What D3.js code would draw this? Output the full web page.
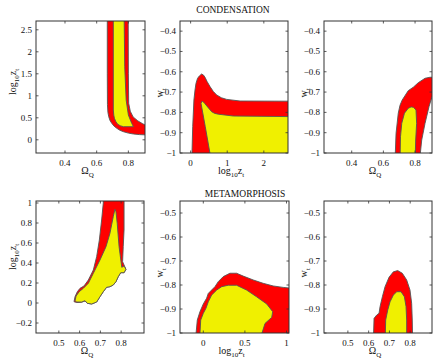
<!DOCTYPE html>
<html>
<head>
<meta charset="utf-8">
<script src="https://cdn.jsdelivr.net/npm/d3@7"></script>
<style>
  body { margin: 0; background: #fff; }
</style>
</head>
<body>
<svg id="vis"></svg>
<script>
  var width = 436, height = 362;
  var serif = '"Liberation Serif", "Times New Roman", Times, "DejaVu Serif", serif';

  // ---- tick values ----
  var omegaTicksA = [0.4, 0.6, 0.8];
  var omegaTicksB = [0.5, 0.6, 0.7, 0.8];
  var logzTicksA = [0, 0.5, 1, 1.5, 2, 2.5];
  var logzTicksB = [-0.2, 0, 0.2, 0.4, 0.6, 0.8, 1];
  var logzXTicksA = [0, 1, 2];
  var logzXTicksB = [0, 0.5, 1];
  var wTicksA = [-1, -0.9, -0.8, -0.7, -0.6, -0.5, -0.4];
  var wTicksB = [-1, -0.9, -0.8, -0.7, -0.6, -0.5];

  var titles = ['CONDENSATION', 'METAMORPHOSIS'];

  // ---- contours, condensation (top row) ----
  var condOmZRed = [[0.667,2.9],[0.667,1.5],[0.668,0.8],[0.671,0.62],[0.676,0.526],[0.684,0.44],[0.695,0.375],
    [0.71,0.31],[0.727,0.261],[0.747,0.215],[0.769,0.184],[0.80,0.152],[0.832,0.132],[0.87,0.118],[0.95,0.105],
    [0.95,0.34],[0.904,0.34],[0.888,0.37],[0.86,0.43],[0.83,0.52],[0.812,0.65],[0.802,0.83],[0.800,1.5],[0.799,2.9]];
  var condOmZYellow = [[0.705,2.9],[0.705,0.677],[0.708,0.56],[0.712,0.489],[0.72,0.42],[0.731,0.36],[0.748,0.32],
    [0.769,0.298],[0.832,0.298],[0.821,0.375],[0.800,0.564],[0.786,0.905],[0.777,1.66],[0.773,2.9]];

  var condZWRed = [[0.03,-1.05],[0.057,-0.87],[0.09,-0.739],[0.12,-0.69],[0.147,-0.657],[0.19,-0.632],[0.237,-0.621],
    [0.30,-0.611],[0.35,-0.616],[0.393,-0.627],[0.45,-0.648],[0.53,-0.673],[0.62,-0.697],[0.71,-0.714],
    [0.84,-0.728],[0.986,-0.736],[1.35,-0.744],[2.8,-0.745],[2.8,-1.05]];
  var condZWYellow = [[0.576,-1.05],[0.40,-0.87],[0.284,-0.755],[0.32,-0.744],[0.38,-0.755],[0.44,-0.768],
    [0.576,-0.797],[0.66,-0.805],[0.757,-0.809],[1.17,-0.818],[2.8,-0.821],[2.8,-1.05]];

  var condOmWRed = [[0.673,-1.05],[0.68,-0.903],[0.694,-0.804],[0.705,-0.765],[0.719,-0.739],[0.757,-0.693],
    [0.789,-0.676],[0.82,-0.654],[0.863,-0.632],[0.894,-0.627],[0.95,-0.627],[0.95,-0.723],[0.907,-0.723],
    [0.888,-0.772],[0.863,-0.854],[0.842,-0.936],[0.827,-1.05]];
  var condOmWYellow = [[0.705,-1.05],[0.708,-0.92],[0.716,-0.854],[0.733,-0.804],[0.757,-0.78],[0.775,-0.773],
    [0.789,-0.775],[0.806,-0.788],[0.81,-0.854],[0.804,-0.936],[0.80,-1.05]];

  // ---- contours, metamorphosis (bottom row) ----
  var metaOmZRed = [[0.714,1.1],[0.714,1.0],[0.706,0.83],[0.695,0.63],[0.682,0.463],[0.666,0.33],[0.642,0.23],
    [0.621,0.17],[0.602,0.147],[0.589,0.113],[0.578,0.063],[0.573,0.013],[0.586,0.005],[0.61,0.008],
    [0.626,0.02],[0.637,-0.003],[0.658,-0.01],[0.682,0.01],[0.698,0.063],[0.714,0.113],[0.73,0.157],
    [0.746,0.163],[0.762,0.18],[0.775,0.213],[0.786,0.263],[0.798,0.303],[0.814,0.303],[0.823,0.337],
    [0.807,0.413],[0.81,0.563],[0.814,0.73],[0.814,1.1]];
  var metaOmZYellow = [[0.77,0.937],[0.762,0.863],[0.746,0.697],[0.727,0.563],[0.698,0.43],[0.666,0.297],
    [0.642,0.197],[0.618,0.147],[0.598,0.113],[0.583,0.07],[0.578,0.023],[0.586,0.01],[0.61,0.01],
    [0.626,0.023],[0.637,-0.003],[0.658,-0.01],[0.682,0.01],[0.698,0.063],[0.714,0.113],[0.73,0.157],
    [0.746,0.163],[0.762,0.18],[0.775,0.213],[0.786,0.263],[0.798,0.303],[0.814,0.303],[0.823,0.337],
    [0.814,0.37],[0.803,0.357],[0.79,0.563],[0.781,0.797],[0.775,0.913]];

  var metaZWRed = [[-0.1,-1.05],[-0.072,-0.946],[-0.04,-0.911],[0,-0.879],[0.04,-0.855],[0.06,-0.835],
    [0.1,-0.821],[0.14,-0.807],[0.18,-0.786],[0.24,-0.765],[0.32,-0.751],[0.40,-0.751],[0.48,-0.763],
    [0.60,-0.779],[0.72,-0.793],[0.84,-0.804],[0.96,-0.81],[1.1,-0.815],[1.1,-1.05]];
  var metaZWYellow = [[-0.048,-1.05],[-0.031,-0.946],[0,-0.918],[0.032,-0.897],[0.06,-0.87],[0.1,-0.842],
    [0.161,-0.821],[0.221,-0.807],[0.30,-0.801],[0.40,-0.801],[0.52,-0.821],[0.64,-0.849],[0.762,-0.879],
    [0.834,-0.911],[0.822,-0.935],[0.742,-0.96],[0.66,-1.05]];

  var metaOmWRed = [[0.622,-1.05],[0.626,-0.939],[0.639,-0.925],[0.65,-0.918],[0.655,-0.89],[0.666,-0.849],
    [0.679,-0.807],[0.698,-0.768],[0.719,-0.745],[0.74,-0.74],[0.762,-0.751],[0.783,-0.779],[0.799,-0.821],
    [0.807,-0.876],[0.81,-0.946],[0.812,-1.05]];
  var metaOmWYellow = [[0.679,-1.05],[0.682,-0.946],[0.692,-0.904],[0.703,-0.87],[0.719,-0.842],[0.735,-0.828],
    [0.756,-0.828],[0.772,-0.849],[0.78,-0.89],[0.783,-0.946],[0.783,-1.05]];

  var red = '#ff0000', yellow = '#f0f000';

  var svg = d3.select('#vis').attr('width', width).attr('height', height)
    .attr('font-family', serif).style('font-family', serif);

  var panels = [
    {box: [36, 21, 145, 153], xd: [0.217, 0.905], yd: [-0.3, 2.7], xt: omegaTicksA, yt: logzTicksA,
     red: condOmZRed, yel: condOmZYellow, xl: 'omega', yl: 'logz'},
    {box: [180, 21, 288, 153], xd: [-0.29, 2.66], yd: [-1, -0.35], xt: logzXTicksA, yt: wTicksA,
     red: condZWRed, yel: condZWYellow, xl: 'logz', yl: 'w'},
    {box: [324, 21, 432, 153], xd: [0.225, 0.907], yd: [-1, -0.35], xt: omegaTicksA, yt: wTicksA,
     red: condOmWRed, yel: condOmWYellow, xl: 'omega', yl: 'w'},
    {box: [36, 201, 144, 333], xd: [0.39, 0.91], yd: [-0.3, 1.02], xt: omegaTicksB, yt: logzTicksB,
     red: metaOmZRed, yel: metaOmZYellow, xl: 'omega', yl: 'logz'},
    {box: [180, 201, 289, 333], xd: [-0.28, 1.03], yd: [-1, -0.45], xt: logzXTicksB, yt: wTicksB,
     red: metaZWRed, yel: metaZWYellow, xl: 'logz', yl: 'w'},
    {box: [324, 201, 432, 333], xd: [0.385, 0.905], yd: [-1, -0.45], xt: omegaTicksB, yt: wTicksB,
     red: metaOmWRed, yel: metaOmWYellow, xl: 'omega', yl: 'w'}
  ];

  function fmt(v) {
    var s = String(+v.toFixed(2));
    return s.replace('-', '\u2212');
  }

  function txt(sel) {
    return sel.append('text').style('font-family', serif).attr('fill', '#111');
  }

  // label with subscripts: parts = [[text, isSub], ...]
  function label(g, parts) {
    var t = txt(g).attr('text-anchor', 'middle').style('font-size', '10px');
    var down = false;
    parts.forEach(function(p) {
      var ts = t.append('tspan').text(p[0]);
      if (p[1]) { ts.style('font-size', '7px'); if (!down) ts.attr('dy', 3); down = true; }
      else if (down) { ts.attr('dy', -3); down = false; }
    });
    return t;
  }
  var labelParts = {
    omega: [['\u03A9', false], ['Q', true]],
    logz: [['log', false], ['10', true], ['z', false], ['t', true]],
    w: [['w', false], ['t', true]]
  };

  panels.forEach(function(p, i) {
    var x0 = p.box[0], y0 = p.box[1], x1 = p.box[2], y1 = p.box[3];
    var x = d3.scaleLinear().domain(p.xd).range([x0, x1]);
    var y = d3.scaleLinear().domain(p.yd).range([y1, y0]);
    var g = svg.append('g');

    g.append('clipPath').attr('id', 'clip' + i)
      .append('rect').attr('x', x0).attr('y', y0).attr('width', x1 - x0).attr('height', y1 - y0);

    var line = d3.line().x(function(d) { return x(d[0]); }).y(function(d) { return y(d[1]); })
      .curve(d3.curveLinearClosed);

    var c = g.append('g').attr('clip-path', 'url(#clip' + i + ')');
    c.append('path').attr('d', line(p.red)).attr('fill', red)
      .attr('stroke', '#555').attr('stroke-width', 0.9).attr('stroke-linejoin', 'round');
    c.append('path').attr('d', line(p.yel)).attr('fill', yellow)
      .attr('stroke', '#555').attr('stroke-width', 0.9).attr('stroke-linejoin', 'round');

    // ticks inside, on all four sides
    var tl = 2.5;
    p.xt.forEach(function(v) {
      g.append('line').attr('x1', x(v)).attr('x2', x(v)).attr('y1', y1).attr('y2', y1 - tl)
        .attr('stroke', '#333').attr('stroke-width', 0.8);
      g.append('line').attr('x1', x(v)).attr('x2', x(v)).attr('y1', y0).attr('y2', y0 + tl)
        .attr('stroke', '#333').attr('stroke-width', 0.8);
      txt(g).attr('x', x(v)).attr('y', y1 + 13).attr('text-anchor', 'middle')
        .style('font-size', '9px').text(fmt(v));
    });
    p.yt.forEach(function(v) {
      g.append('line').attr('x1', x0).attr('x2', x0 + tl).attr('y1', y(v)).attr('y2', y(v))
        .attr('stroke', '#333').attr('stroke-width', 0.8);
      g.append('line').attr('x1', x1).attr('x2', x1 - tl).attr('y1', y(v)).attr('y2', y(v))
        .attr('stroke', '#333').attr('stroke-width', 0.8);
      txt(g).attr('x', x0 - 4).attr('y', y(v)).attr('dy', '0.33em').attr('text-anchor', 'end')
        .style('font-size', '9px').text(fmt(v));
    });

    g.append('rect').attr('x', x0).attr('y', y0).attr('width', x1 - x0).attr('height', y1 - y0)
      .attr('fill', 'none').attr('stroke', '#333').attr('stroke-width', 1);

    // x label
    var xlg = g.append('g').attr('transform', 'translate(' + ((x0 + x1) / 2 - 3) + ',' + (y1 + 21) + ')');
    label(xlg, labelParts[p.xl]);

    // y label
    var ylx = p.yl === 'w' ? x0 - 17 : x0 - 20;
    var yly = (y0 + y1) / 2 + (p.yl === 'w' ? 6 : (i < 3 ? -5 : -10));
    var ylg = g.append('g').attr('transform', 'translate(' + ylx + ',' + yly + ') rotate(-90)');
    label(ylg, labelParts[p.yl]);
  });

  txt(svg).attr('x', 233).attr('y', 13).attr('text-anchor', 'middle')
    .style('font-size', '9.5px').text(titles[0]);
  txt(svg).attr('x', 245).attr('y', 197).attr('text-anchor', 'middle')
    .style('font-size', '9.5px').text(titles[1]);
</script>
</body>
</html>
